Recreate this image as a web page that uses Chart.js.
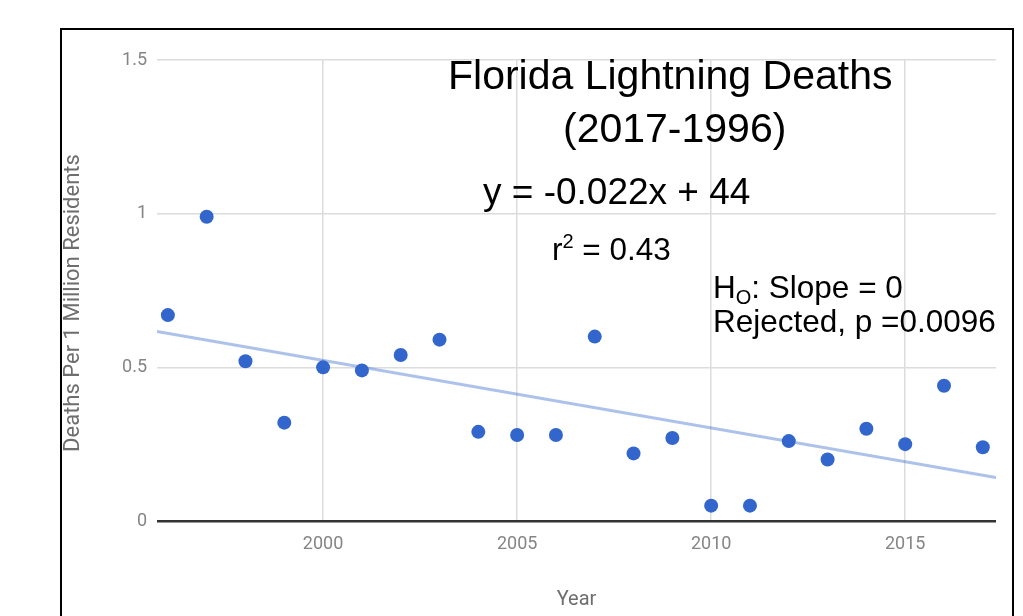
<!DOCTYPE html>
<html>
<head>
<meta charset="utf-8">
<title>Florida Lightning Deaths</title>
<script src="https://cdn.jsdelivr.net/npm/chart.js@4.4.1/dist/chart.umd.min.js"></script>
<style>
    html, body { margin: 0; padding: 0; background: #fff; }
    #wrap { width: 1023px; height: 616px; }
</style>
</head>
<body>
<div id="wrap"><canvas id="chart" width="1023" height="616"></canvas></div>
<script>
// Data (deaths per 1 million residents)
const years = [1996, 1997, 1998, 1999, 2000, 2001, 2002, 2003, 2004, 2005, 2006,
               2007, 2008, 2009, 2010, 2011, 2012, 2013, 2014, 2015, 2016, 2017];
const deaths = [0.67, 0.99, 0.52, 0.32, 0.50, 0.49, 0.54, 0.59, 0.29, 0.28, 0.28,
                0.60, 0.22, 0.27, 0.05, 0.05, 0.26, 0.20, 0.30, 0.25, 0.44, 0.24];

const xTicks = [2000, 2005, 2010, 2015];
const yTicks = [0, 0.5, 1, 1.5];
const xRange = [1995.72, 2017.34];
const yRange = [0, 1.5];

const POINT_BLUE = '#3366cc';
const TREND_BLUE = 'rgba(51, 102, 204, 0.4)';
const TICK_GREY = '#858585';
const TITLE_GREY = '#6e6e6e';

// Least squares trendline over the points
function linearFit(xs, ys) {
    const n = xs.length;
    const mx = xs.reduce((s, v) => s + v, 0) / n;
    const my = ys.reduce((s, v) => s + v, 0) / n;
    let num = 0, den = 0;
    for (let i = 0; i < n; i++) {
        num += (xs[i] - mx) * (ys[i] - my);
        den += (xs[i] - mx) * (xs[i] - mx);
    }
    const slope = num / den;
    return { slope, intercept: my - slope * mx };
}

const fit = linearFit(years, deaths);
const trendPoints = xRange.map(x => ({ x, y: fit.slope * x + fit.intercept }));
const points = years.map((y, i) => ({ x: y, y: deaths[i] }));

// Draw a run of text pieces, each piece may be raised/lowered and sized
function drawRuns(ctx, x, y, runs) {
    let cx = x;
    runs.forEach(run => {
        ctx.font = `${run.size}px "Liberation Sans", Arial, sans-serif`;
        ctx.fillText(run.text, cx, y + (run.dy || 0));
        cx += ctx.measureText(run.text).width;
    });
}

// Black frame, y axis title and the annotation text pasted on the chart
const notesPlugin = {
    id: 'notes',
    afterDraw(chart) {
        const ctx = chart.ctx;
        ctx.save();
        ctx.strokeStyle = '#000';
        ctx.lineWidth = 2;
        ctx.beginPath();
        ctx.moveTo(61, 620);
        ctx.lineTo(61, 29);
        ctx.lineTo(1013, 29);
        ctx.lineTo(1013, 620);
        ctx.stroke();

        // y axis title sits a bit below the plot centre in the original
        ctx.save();
        ctx.translate(73, 303);
        ctx.rotate(-Math.PI / 2);
        ctx.fillStyle = TITLE_GREY;
        ctx.font = '22px Roboto';
        ctx.textAlign = 'center';
        ctx.textBaseline = 'middle';
        ctx.fillText('Deaths Per 1 Million Residents', 0, 0);
        ctx.restore();

        ctx.fillStyle = '#000';
        ctx.textAlign = 'left';
        ctx.textBaseline = 'alphabetic';
        drawRuns(ctx, 448, 89, [{ text: 'Florida Lightning Deaths', size: 41 }]);
        drawRuns(ctx, 563, 142, [{ text: '(2017-1996)', size: 41 }]);
        drawRuns(ctx, 483, 204, [{ text: 'y = -0.022x + 44', size: 37 }]);
        drawRuns(ctx, 552, 260, [
            { text: 'r', size: 31.5 },
            { text: '2', size: 20, dy: -12 },
            { text: ' = 0.43', size: 31.5 }
        ]);
        drawRuns(ctx, 713, 298, [
            { text: 'H', size: 31.5 },
            { text: 'O', size: 20, dy: 6 },
            { text: ': Slope = 0', size: 31.5 }
        ]);
        drawRuns(ctx, 713, 332, [{ text: 'Rejected, p =0.0096', size: 31.5 }]);
        ctx.restore();
    }
};

function initializeChart() {
    const ctx = document.getElementById('chart').getContext('2d');
    return new Chart(ctx, {
        type: 'scatter',
        data: {
            datasets: [
                {
                    label: 'Deaths',
                    data: points,
                    backgroundColor: POINT_BLUE,
                    borderWidth: 0,
                    pointRadius: 7,
                    pointHoverRadius: 7
                },
                {
                    label: 'Trendline',
                    type: 'line',
                    data: trendPoints,
                    borderColor: TREND_BLUE,
                    borderWidth: 3,
                    pointRadius: 0,
                    fill: false
                }
            ]
        },
        options: {
            responsive: false,
            animation: false,
            devicePixelRatio: 1,
            layout: { padding: { left: 0, top: 60, right: 27, bottom: 0 } },
            plugins: {
                legend: { display: false },
                tooltip: { enabled: false }
            },
            scales: {
                x: {
                    type: 'linear',
                    min: xRange[0],
                    max: xRange[1],
                    afterBuildTicks: scale => { scale.ticks = xTicks.map(v => ({ value: v })); },
                    afterFit: scale => { scale.height = 95; },
                    grid: { color: '#dcdcdc', lineWidth: 1.5, drawTicks: false },
                    border: { display: false },
                    ticks: {
                        padding: 13,
                        color: TICK_GREY,
                        font: { family: 'Roboto', size: 18 },
                        callback: v => String(v)
                    },
                    title: {
                        display: true,
                        text: 'Year',
                        color: TITLE_GREY,
                        font: { family: 'Roboto', size: 20 },
                        padding: { top: 0, bottom: 4 }
                    }
                },
                y: {
                    min: yRange[0],
                    max: yRange[1],
                    afterBuildTicks: scale => { scale.ticks = yTicks.map(v => ({ value: v })); },
                    afterFit: scale => { scale.width = 157; },
                    grid: {
                        color: c => (c.tick && c.tick.value === 0 ? '#333' : '#dcdcdc'),
                        lineWidth: c => (c.tick && c.tick.value === 0 ? 2.5 : 1.5),
                        drawTicks: false
                    },
                    border: { display: false },
                    ticks: {
                        padding: 10,
                        color: TICK_GREY,
                        font: { family: 'Roboto', size: 18 },
                        callback: v => String(v)
                    },
                    title: { display: false }
                }
            }
        },
        plugins: [notesPlugin]
    });
}

initializeChart();
</script>
</body>
</html>
